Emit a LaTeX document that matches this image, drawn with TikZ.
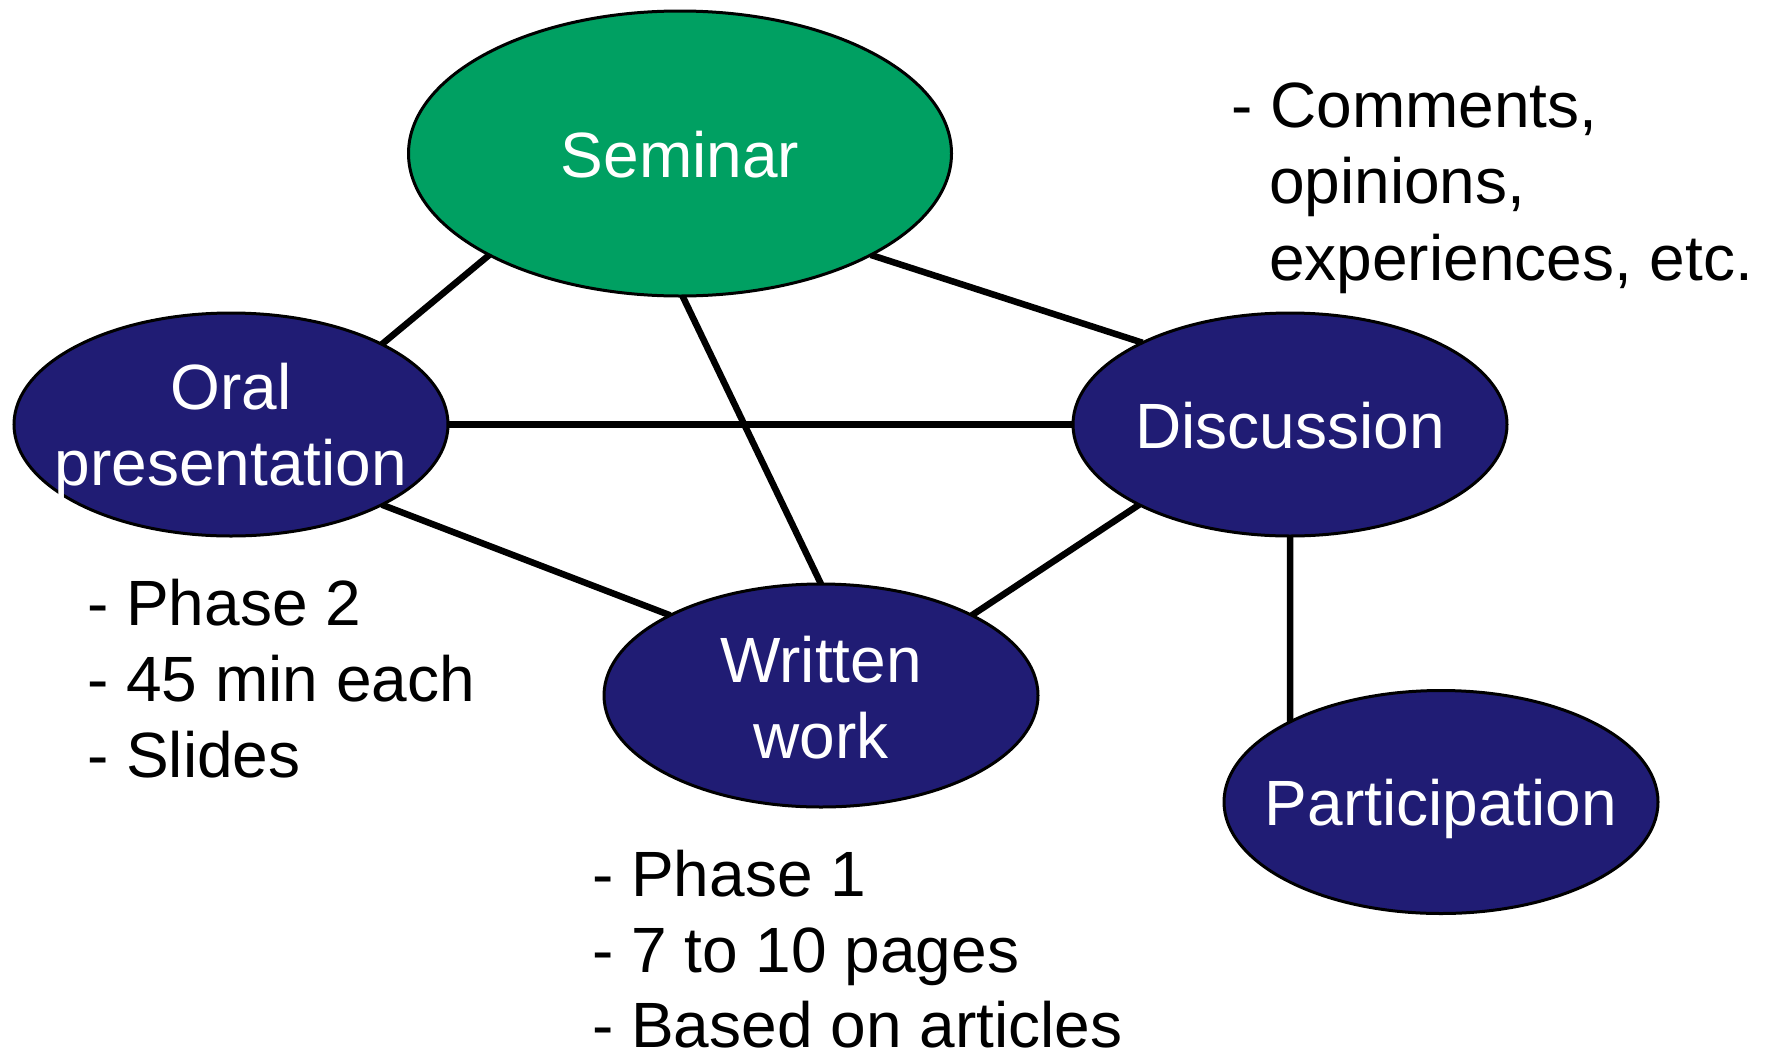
\documentclass[tikz,border=0pt]{standalone}
\usepackage{fontspec}
\setmainfont{Liberation Sans}
\usetikzlibrary{shapes.geometric,backgrounds}
\definecolor{semgreen}{RGB}{0,160,98}
\definecolor{navyfill}{RGB}{32,28,116}
\begin{document}
\begin{tikzpicture}[x=1pt,y=-1pt,
  ell/.style={ellipse,draw=black,line width=3pt,inner sep=0pt,outer sep=0pt},
  navyell/.style={ell,fill=navyfill,minimum width=434pt,minimum height=223pt},
  semell/.style={ell,fill=semgreen,minimum width=543pt,minimum height=285pt},
  intext/.style={text=white,anchor=base,inner sep=0pt,font=\fontsize{64}{76}\selectfont},
  note/.style={text=black,anchor=base west,inner sep=0pt,text depth=0pt,font=\fontsize{64}{76}\selectfont},
  link/.style={line width=6.5pt,draw=black}]
\useasboundingbox (0,0) rectangle (1766,1055);
% ellipses
\node[semell]  (sem)  at (680,153.5) {};
\node[navyell] (oral) at (231,424.5) {};
\node[navyell] (disc) at (1290,424.5) {};
\node[navyell] (writ) at (821,695.5) {};
\node[navyell] (part) at (1441,802) {};
% texts in ellipses
\node[intext] (semT)   at (680,177) {Seminar};
\node[intext] (oralT1) at (231,409) {Oral};
\node[intext] (oralT2) at (231,485) {presentation};
\node[intext] (discT)  at (1290,448) {Discussion};
\node[intext] (writT1) at (821,682) {Written};
\node[intext] (writT2) at (821,758) {work};
\node[intext] (partT)  at (1441,825) {Participation};
% notes
\node[note] (c1) at (1231,127) {- Comments,};
\node[note] (c2) at (1269,203) {opinions,};
\node[note] (c3) at (1269,280) {experiences, etc.};
\node[note] (o1) at (87,625) {- Phase 2};
\node[note] (o2) at (87,701) {- 45 min each};
\node[note] (o3) at (87,777) {- Slides};
\node[note] (w1) at (592,896) {- Phase 1};
\node[note] (w2) at (592,972) {- 7 to 10 pages};
\node[note] (w3) at (592,1047) {- Based on articles};
% connectors
\begin{scope}[on background layer]
\fill[white] (0,0) rectangle (1766,1055);
\draw[link] (sem.208) -- (oral.28);
\draw[link] (sem.271) -- (writ.90);
\draw[link] (sem.332) -- (disc.151);
\draw[link] (oral.0) -- (disc.180);
\draw[link] (oral.332) -- (writ.152);
\draw[link] (disc.208) -- (writ.28);
\draw[link] (disc.270) -- (part.152);
\end{scope}
\end{tikzpicture}
\end{document}
